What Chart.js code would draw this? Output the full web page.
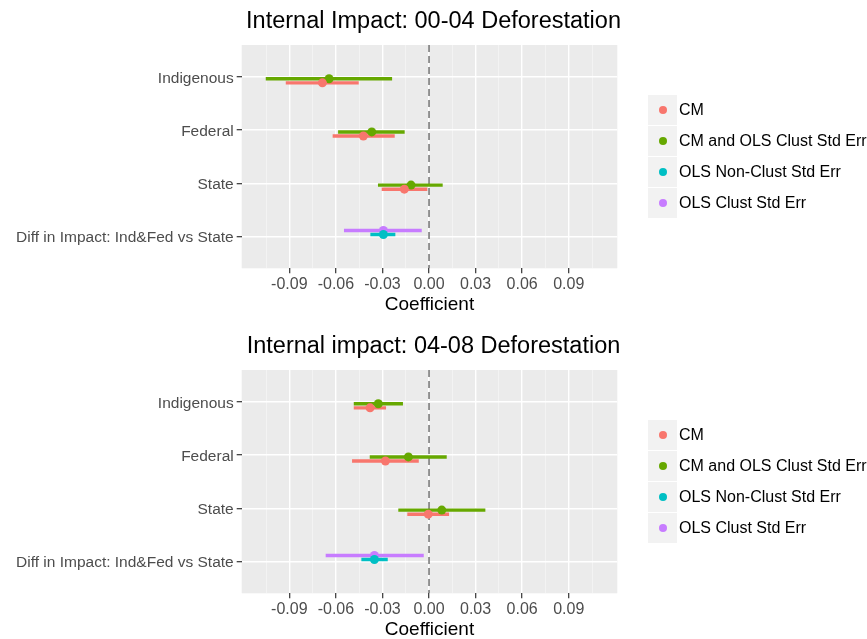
<!DOCTYPE html>
<html>
<head>
<meta charset="utf-8">
<title>Internal Impact - Deforestation</title>
<script src="https://cdn.jsdelivr.net/npm/chart.js@4.4.0/dist/chart.umd.min.js"></script>
<style>
  html, body { margin: 0; padding: 0; background: #ffffff; overflow: hidden; }
  body { width: 867px; height: 639px; position: relative; font-family: 'Liberation Sans', Arial, sans-serif; }
  canvas { position: absolute; left: 0; }
  .legend { position: absolute; left: 648px; }
  .legend-item { display: flex; align-items: center; height: 30px; margin-bottom: 1px; }
  .legend-key { width: 29px; height: 30px; background: #f2f2f2; position: relative; flex: none; }
  .legend-key span { position: absolute; left: 10.5px; top: 11px; width: 8px; height: 8px; border-radius: 50%; }
  .legend-label { margin-left: 2px; font-size: 16px; color: #000; white-space: nowrap; }
</style>
</head>
<body>
<canvas id="chart0004" width="867" height="325" style="top:0px"></canvas>
<canvas id="chart0408" width="867" height="325" style="top:325px"></canvas>
<div class="legend" id="legend0004" style="top:95px"></div>
<div class="legend" id="legend0408" style="top:420px"></div>

<script>
// Categorias (eixo y, de cima para baixo) e séries
const categories = ['Indigenous', 'Federal', 'State', 'Diff in Impact: Ind&Fed vs State'];
const seriesNames = ['CM', 'CM and OLS Clust Std Err', 'OLS Non-Clust Std Err', 'OLS Clust Std Err'];
const xTicks = [-0.09, -0.06, -0.03, 0, 0.03, 0.06, 0.09];

// Painel 1: 00-04 (estimativa, limite inferior, limite superior)
const cm0004Est = [-0.0687, -0.0423, -0.0159, null];
const cm0004Lo = [-0.0923, -0.0621, -0.0305, null];
const cm0004Hi = [-0.0453, -0.0221, -0.0011, null];
const cmOls0004Est = [-0.0644, -0.0369, -0.0116, null];
const cmOls0004Lo = [-0.1052, -0.0586, -0.0329, null];
const cmOls0004Hi = [-0.0238, -0.0157, 0.0088, null];
const olsNon0004Est = [null, null, null, -0.0294];
const olsNon0004Lo = [null, null, null, -0.0378];
const olsNon0004Hi = [null, null, null, -0.0217];
const olsClust0004Est = [null, null, null, -0.0294];
const olsClust0004Lo = [null, null, null, -0.0548];
const olsClust0004Hi = [null, null, null, -0.0047];

// Painel 2: 04-08
const cm0408Est = [-0.0380, -0.0281, -0.0005, null];
const cm0408Lo = [-0.0485, -0.0496, -0.0140, null];
const cm0408Hi = [-0.0277, -0.0066, 0.0129, null];
const cmOls0408Est = [-0.0327, -0.0133, 0.0082, null];
const cmOls0408Lo = [-0.0485, -0.0382, -0.0198, null];
const cmOls0408Hi = [-0.0168, 0.0114, 0.0363, null];
const olsNon0408Est = [null, null, null, -0.0352];
const olsNon0408Lo = [null, null, null, -0.0436];
const olsNon0408Hi = [null, null, null, -0.0266];
const olsClust0408Est = [null, null, null, -0.0352];
const olsClust0408Lo = [null, null, null, -0.0666];
const olsClust0408Hi = [null, null, null, -0.0034];

// Estilo
const seriesColors = ['#F8766D', '#66A800', '#00BFC4', '#C77CFF'];
const dodgeOffsets = [0.112, 0.035, -0.035, -0.112];
const pointOrder = [0, 1, 0, 1];
const xMin = -0.1207, xMax = 0.1213;
const yMin = 0.4, yMax = 4.6;

Chart.defaults.font.family = "'Liberation Sans', Arial, sans-serif";

const panels = [
    {
        canvasId: 'chart0004', legendId: 'legend0004',
        title: 'Internal Impact: 00-04 Deforestation',
        est: [cm0004Est, cmOls0004Est, olsNon0004Est, olsClust0004Est],
        lo: [cm0004Lo, cmOls0004Lo, olsNon0004Lo, olsClust0004Lo],
        hi: [cm0004Hi, cmOls0004Hi, olsNon0004Hi, olsClust0004Hi]
    },
    {
        canvasId: 'chart0408', legendId: 'legend0408',
        title: 'Internal impact: 04-08 Deforestation',
        est: [cm0408Est, cmOls0408Est, olsNon0408Est, olsClust0408Est],
        lo: [cm0408Lo, cmOls0408Lo, olsNon0408Lo, olsClust0408Lo],
        hi: [cm0408Hi, cmOls0408Hi, olsNon0408Hi, olsClust0408Hi]
    }
];

// Grade menor entre os ticks principais (estilo ggplot)
const step = xTicks[1] - xTicks[0];
const gridValues = [xTicks[0] - step / 2];
xTicks.forEach(t => { gridValues.push(t, t + step / 2); });

function isMajor(v) {
    return xTicks.some(t => Math.abs(t - v) < 1e-9);
}

// Fundo cinza do painel
const panelBackground = {
    id: 'panelBackground',
    beforeDraw(chart) {
        const { ctx, chartArea } = chart;
        ctx.save();
        ctx.fillStyle = '#EBEBEB';
        ctx.fillRect(chartArea.left, chartArea.top, chartArea.right - chartArea.left, chartArea.bottom - chartArea.top);
        ctx.restore();
    }
};

function buildDatasets(panel) {
    const datasets = [];

    // Pontos
    seriesNames.forEach((name, s) => {
        const pts = [];
        categories.forEach((c, i) => {
            if (panel.est[s][i] !== null) pts.push({ x: panel.est[s][i], y: i + 1 + dodgeOffsets[s] });
        });
        datasets.push({
            type: 'scatter', label: name, data: pts,
            backgroundColor: seriesColors[s], borderWidth: 0,
            pointRadius: 4.5, pointHoverRadius: 4.5, order: pointOrder[s]
        });
    });

    // Barras de erro horizontais
    seriesNames.forEach((name, s) => {
        categories.forEach((c, i) => {
            if (panel.lo[s][i] === null) return;
            const y = i + 1 + dodgeOffsets[s];
            datasets.push({
                type: 'scatter', showLine: true,
                data: [{ x: panel.lo[s][i], y: y }, { x: panel.hi[s][i], y: y }],
                borderColor: seriesColors[s], borderWidth: 3.4,
                pointRadius: 0, pointHoverRadius: 0, order: 2
            });
        });
    });

    // Linha tracejada em zero
    datasets.push({
        type: 'scatter', showLine: true,
        data: [{ x: 0, y: yMin }, { x: 0, y: yMax }],
        borderColor: '#7a7a7a', borderWidth: 1.6, borderDash: [7, 4],
        pointRadius: 0, pointHoverRadius: 0, order: 3
    });
    return datasets;
}

function renderPanel(panel) {
    const ctx = document.getElementById(panel.canvasId).getContext('2d');
    new Chart(ctx, {
        type: 'scatter',
        data: { datasets: buildDatasets(panel) },
        plugins: [panelBackground],
        options: {
            responsive: false,
            animation: false,
            devicePixelRatio: 1,
            layout: { padding: 0 },
            plugins: {
                legend: { display: false },
                tooltip: { enabled: false },
                title: {
                    display: true, text: panel.title, color: '#000000',
                    font: { size: 23.5, weight: 'normal' },
                    padding: { top: 7.9, bottom: 8.9 }
                }
            },
            scales: {
                x: {
                    type: 'linear', min: xMin, max: xMax,
                    afterBuildTicks: axis => { axis.ticks = gridValues.map(v => ({ value: v })); },
                    afterFit: scale => { scale.height = 56.7; },
                    ticks: {
                        autoSkip: false, maxRotation: 0, padding: 2,
                        color: '#4d4d4d', font: { size: 16 },
                        callback: v => {
                            const m = xTicks.find(t => Math.abs(t - v) < 1e-9);
                            return m === undefined ? '' : m.toFixed(2);
                        }
                    },
                    grid: {
                        color: c => (c.tick && isMajor(c.tick.value)) ? '#ffffff' : '#f7f7f7',
                        lineWidth: c => (c.tick && isMajor(c.tick.value)) ? 1.4 : 0.7,
                        tickColor: c => (c.tick && isMajor(c.tick.value)) ? '#333333' : 'rgba(0,0,0,0)',
                        tickLength: 5, tickWidth: 1.2
                    },
                    border: { display: false },
                    title: {
                        display: true, text: 'Coefficient', color: '#000000',
                        font: { size: 19 }, padding: { top: 0, bottom: 8.6 }
                    }
                },
                y: {
                    type: 'linear', min: yMin, max: yMax, reverse: true,
                    afterBuildTicks: axis => { axis.ticks = categories.map((c, i) => ({ value: i + 1 })); },
                    afterFit: scale => { scale.width = 241.7; },
                    ticks: {
                        autoSkip: false, padding: 3, labelOffset: 1.5,
                        color: '#4d4d4d', font: { size: 15.5 },
                        callback: (v, i) => categories[i]
                    },
                    grid: { color: '#ffffff', lineWidth: 1.4, tickColor: '#333333', tickLength: 5, tickWidth: 1.2 },
                    border: { display: false }
                },
                // espaço reservado para a legenda
                legendSpace: {
                    axis: 'y', type: 'linear', position: 'right', display: true,
                    grid: { display: false }, ticks: { display: false }, border: { display: false },
                    afterFit: scale => { scale.width = 249.7; }
                }
            }
        }
    });
}

function renderLegend(panel) {
    const box = document.getElementById(panel.legendId);
    seriesNames.forEach((name, s) => {
        const item = document.createElement('div');
        item.className = 'legend-item';
        item.innerHTML = '<div class="legend-key"><span style="background:' + seriesColors[s] + '"></span></div>' +
            '<div class="legend-label"></div>';
        item.querySelector('.legend-label').textContent = name;
        box.appendChild(item);
    });
}

panels.forEach(p => {
    renderPanel(p);
    renderLegend(p);
});
</script>
</body>
</html>
